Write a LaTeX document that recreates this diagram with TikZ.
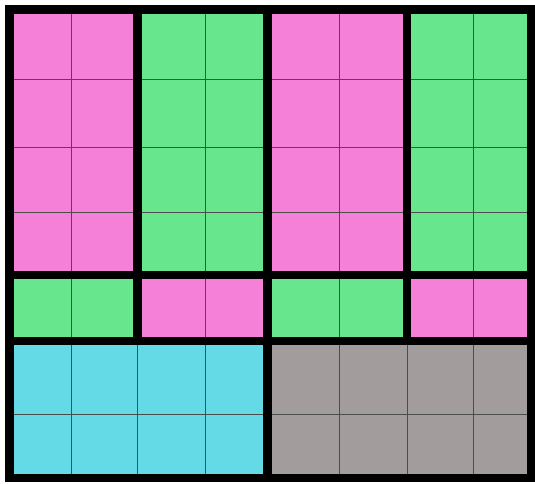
\documentclass[tikz,border=0pt]{standalone}
\definecolor{pk}{RGB}{244,128,216}
\definecolor{gn}{RGB}{104,230,142}
\definecolor{cy}{RGB}{100,218,230}
\definecolor{gy}{RGB}{162,157,156}
\begin{document}
\begin{tikzpicture}[x=1pt,y=-1pt,
  thinline/.style={draw=black!70,line width=0.9pt},
  thickline/.style={draw=black,line width=8.5pt}]
\useasboundingbox (0,0) rectangle (535,483);
\fill[white] (0,0) rectangle (535,483);
% top blocks
\fill[pk] (9.5,9.5) rectangle (137.5,275);
\fill[gn] (137.5,9.5) rectangle (267.5,275);
\fill[pk] (267.5,9.5) rectangle (407,275);
\fill[gn] (407,9.5) rectangle (531,275);
% middle row
\fill[gn] (9.5,275) rectangle (137.5,341);
\fill[pk] (137.5,275) rectangle (267.5,341);
\fill[gn] (267.5,275) rectangle (407,341);
\fill[pk] (407,275) rectangle (531,341);
% bottom
\fill[cy] (9.5,341) rectangle (267.5,478);
\fill[gy] (267.5,341) rectangle (531,478);
% thin lines
\foreach \x in {71,205,339,473} \draw[thinline] (\x,9.5) -- (\x,478);
\foreach \x in {137.5,407} \draw[thinline] (\x,341) -- (\x,478);
\foreach \y in {79,147,212} \draw[thinline] (9.5,\y) -- (531,\y);
\draw[thinline] (9.5,414) -- (531,414);
% thick lines
\draw[thickline] (9.5,9.5) rectangle (531,478);
\draw[thickline] (9.5,275) -- (531,275);
\draw[thickline] (9.5,341) -- (531,341);
\draw[thickline] (137.5,9.5) -- (137.5,341);
\draw[thickline] (407,9.5) -- (407,341);
\draw[thickline] (267.5,9.5) -- (267.5,478);
\end{tikzpicture}
\end{document}
